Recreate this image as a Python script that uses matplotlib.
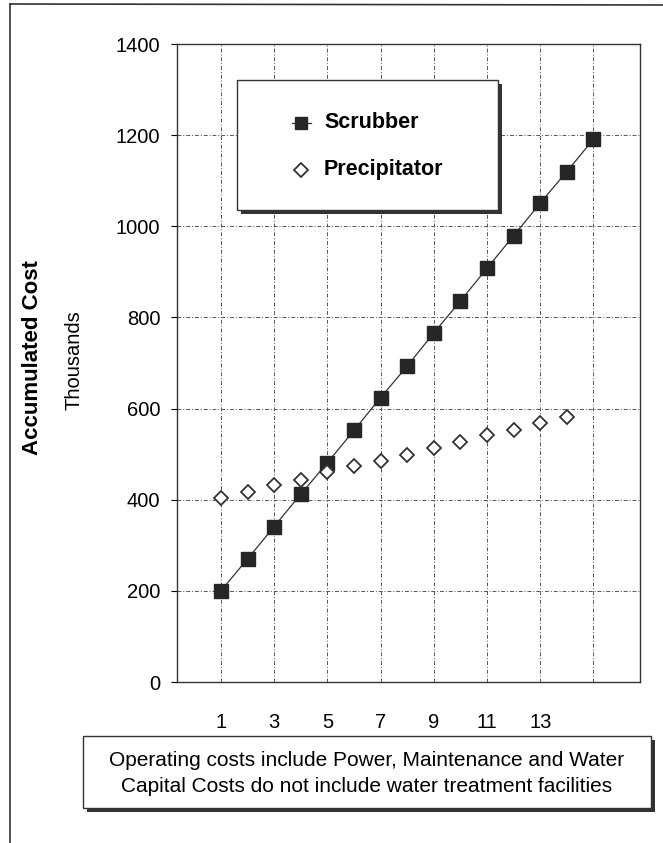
import matplotlib.pyplot as plt
from matplotlib.patches import Rectangle
from matplotlib.lines import Line2D

plt.rcParams['font.family'] = ['Liberation Sans', 'DejaVu Sans']

# data (thousands)
years_scrubber = list(range(1, 16))
scrubber = [200, 270, 341, 412, 481, 552, 624, 693, 766, 836, 908, 979, 1051, 1120, 1191]
years_precip = list(range(1, 15))
precipitator = [403, 418, 432, 444, 460, 473, 486, 499, 513, 527, 541, 554, 568, 582]
x_ticks = [1, 3, 5, 7, 9, 11, 13]
y_ticks = [0, 200, 400, 600, 800, 1000, 1200, 1400]
notes = ["Operating costs include Power, Maintenance and Water",
         "Capital Costs do not include water treatment facilities"]

W, H = 663, 843
fig = plt.figure(figsize=(W / 100, H / 100), dpi=100)
ax = fig.add_axes([177 / W, 1 - 682 / H, (640 - 177) / W, (682 - 44) / H])

# grid (dashed, drawn first)
for yv in y_ticks:
    ax.axhline(yv, color='#555555', lw=0.7, ls=(0, (4, 2, 1, 2)), zorder=1)
for xv in x_ticks + [15]:
    ax.axvline(xv, color='#555555', lw=0.7, ls=(0, (4, 2, 1, 2)), zorder=1)

ax.plot(years_scrubber, scrubber, color='#333333', lw=0.9, marker='s',
        markersize=10, markerfacecolor='#262626', markeredgecolor='#262626', zorder=3)
ax.plot(years_precip, precipitator, ls='none', marker='D', markersize=7,
        markerfacecolor='white', markeredgecolor='#333333', markeredgewidth=1.3, zorder=3)

ax.set_xlim(-0.65, 16.75)
ax.set_ylim(0, 1400)
ax.set_xticks(x_ticks)
ax.set_yticks(y_ticks)
ax.tick_params(axis='x', length=0, pad=22, labelsize=14.5)
ax.tick_params(axis='y', length=4, direction='out', pad=8, labelsize=14.5)
for spine in ax.spines.values():
    spine.set_linewidth(1.0)
    spine.set_color('#333333')

# legend box with shadow
fig.patches.append(Rectangle((241 / W, 1 - 214 / H), 261 / W, 130 / H,
                             transform=fig.transFigure, facecolor='#333333', zorder=4))
fig.patches.append(Rectangle((237 / W, 1 - 210 / H), 261 / W, 130 / H,
                             transform=fig.transFigure, facecolor='white',
                             edgecolor='#333333', lw=1.0, zorder=5))
fig.lines.append(Line2D([292 / W, 311 / W], [1 - 123 / H, 1 - 123 / H], transform=fig.transFigure,
                        color='#333333', lw=0.9, zorder=6))
fig.lines.append(Line2D([301 / W], [1 - 123 / H], transform=fig.transFigure,
                        color='#262626', marker='s', markersize=9, zorder=7))
fig.lines.append(Line2D([301 / W], [1 - 170 / H], transform=fig.transFigure, ls='none',
                        marker='D', markersize=7, markerfacecolor='white',
                        markeredgecolor='#333333', markeredgewidth=1.3, zorder=6))
fig.text(324 / W, 1 - 123 / H, "Scrubber", fontsize=15.5, fontweight='bold',
         va='center', ha='left', zorder=7)
fig.text(324 / W, 1 - 170 / H, "Precipitator", fontsize=15.5, fontweight='bold',
         va='center', ha='left', zorder=7)

# axis titles
fig.text(33 / W, 1 - 358 / H, "Accumulated Cost", rotation=90, fontsize=16,
         fontweight='bold', va='center', ha='center')
fig.text(74 / W, 1 - 360 / H, "Thousands", rotation=90, fontsize=14.5,
         va='center', ha='center')

# note box with shadow
fig.patches.append(Rectangle((87 / W, 1 - 812 / H), 568 / W, 72 / H,
                             transform=fig.transFigure, facecolor='#333333', zorder=4))
fig.patches.append(Rectangle((83 / W, 1 - 808 / H), 568 / W, 72 / H,
                             transform=fig.transFigure, facecolor='white',
                             edgecolor='#333333', lw=1.0, zorder=5))
fig.text(367 / W, 1 - 761 / H, notes[0], fontsize=15, ha='center', va='center', zorder=6)
fig.text(367 / W, 1 - 786 / H, notes[1], fontsize=15, ha='center', va='center', zorder=6)

# page frame (left and top edges)
fig.lines.append(Line2D([10 / W, 10 / W], [0, 1 - 4 / H], transform=fig.transFigure,
                        color='#333333', lw=1.2))
fig.lines.append(Line2D([10 / W, 1], [1 - 4 / H, 1 - 5 / H], transform=fig.transFigure,
                        color='#333333', lw=1.2))

fig.savefig("out.png", dpi=100)
